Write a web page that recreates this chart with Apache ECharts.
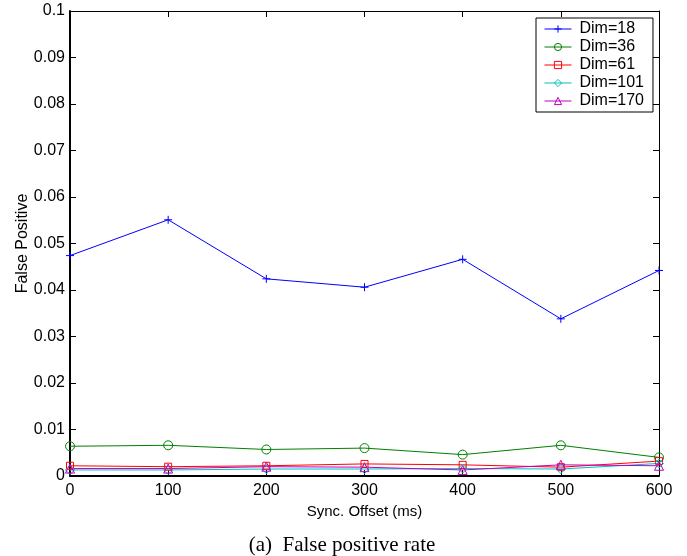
<!DOCTYPE html>
<html>
<head>
<meta charset="utf-8">
<script src="https://cdn.jsdelivr.net/npm/echarts@6/dist/echarts.min.js"></script>
<style>
  html, body { margin: 0; padding: 0; background: #fff; }
  #chart { width: 687px; height: 556px; }
</style>
</head>
<body>
<div id="chart"></div>
<script>
// Sync offsets in ms
const offsets = [0, 100, 200, 300, 400, 500, 600];

// False positive rate per dimension
const dim18  = [0.0474, 0.0551, 0.0424, 0.0406, 0.0466, 0.0338, 0.0442];
const dim36  = [0.0064, 0.0066, 0.0057, 0.0060, 0.0046, 0.0066, 0.0040];
const dim61  = [0.0022, 0.0020, 0.0022, 0.0026, 0.0024, 0.0019, 0.0032];
const dim101 = [0.0013, 0.0013, 0.0015, 0.0015, 0.0016, 0.0015, 0.0027];
const dim170 = [0.0016, 0.0016, 0.0020, 0.0019, 0.0013, 0.0024, 0.0022];

const seriesNames = ['Dim=18', 'Dim=36', 'Dim=61', 'Dim=101', 'Dim=170'];
const yTicks = ['0', '0.01', '0.02', '0.03', '0.04', '0.05', '0.06', '0.07', '0.08', '0.09', '0.1'];

const FONT = 'Liberation Sans, Arial, Helvetica, sans-serif';
const PLUS = 'path://M0,5L10,5M5,0L5,10';

function pairs(ys) { return offsets.map((x, i) => [x, ys[i]]); }

// Hollow markers with a thin outline, line in the same colour
function makeSeries(name, ys, color, symbol, size) {
  return {
    name: name,
    type: 'line',
    data: pairs(ys),
    xAxisIndex: 0,
    yAxisIndex: 0,
    symbol: symbol,
    symbolSize: size,
    showAllSymbol: true,
    lineStyle: { color: color, width: 1 },
    itemStyle: { color: 'rgba(255,255,255,0)', borderColor: color, borderWidth: 1 },
    emphasis: { disabled: true },
    animation: false
  };
}

const chart = echarts.init(document.getElementById('chart'), null, { renderer: 'canvas' });

const tickStyle = { show: true, inside: true, length: 6, lineStyle: { color: '#000', width: 1 } };

chart.setOption({
  backgroundColor: '#fff',
  animation: false,
  grid: { left: 70, right: 28, top: 11, bottom: 80, containLabel: false },
  title: {
    text: '(a)  False positive rate',
    left: 337,
    textAlign: 'center',
    top: 530,
    textStyle: { fontFamily: 'Liberation Serif, Times New Roman, serif', fontSize: 21, fontWeight: 'normal', color: '#000' }
  },
  legend: {
    data: seriesNames,
    orient: 'vertical',
    left: 536,
    top: 18,
    padding: [2, 9, 2, 8],
    itemWidth: 27,
    itemHeight: 9,
    itemGap: 0,
    backgroundColor: '#fff',
    borderColor: '#000',
    borderWidth: 1,
    borderRadius: 0,
    selectedMode: false,
    lineStyle: { width: 1 },
    itemStyle: { borderWidth: 1 },
    textStyle: { fontFamily: FONT, fontSize: 16, color: '#000', lineHeight: 18, padding: [0, 0, 0, 3] }
  },
  xAxis: [
    {
      type: 'value', min: 0, max: 600, interval: 100, position: 'bottom',
      name: 'Sync. Offset (ms)', nameLocation: 'middle', nameGap: 26,
      nameTextStyle: { fontFamily: FONT, fontSize: 15, color: '#000' },
      axisLine: { show: true, onZero: false, lineStyle: { color: '#000', width: 2 } },
      axisTick: tickStyle,
      axisLabel: { fontFamily: FONT, fontSize: 16, color: '#000', margin: 7 },
      splitLine: { show: false }
    },
    {
      type: 'value', min: 0, max: 600, interval: 100, position: 'top',
      axisLine: { show: true, onZero: false, lineStyle: { color: '#000', width: 1 } },
      axisTick: tickStyle,
      axisLabel: { show: false },
      splitLine: { show: false }
    }
  ],
  yAxis: [
    {
      type: 'value', min: 0, max: 0.1, interval: 0.01, position: 'left',
      name: 'False Positive', nameLocation: 'middle', nameGap: 39, nameRotate: 90,
      nameMoveOverlap: false,
      nameTextStyle: { fontFamily: FONT, fontSize: 16, color: '#000' },
      axisLine: { show: true, onZero: false, lineStyle: { color: '#000', width: 2 } },
      axisTick: tickStyle,
      axisLabel: {
        fontFamily: FONT, fontSize: 16, color: '#000', margin: 5,
        formatter: (v) => yTicks[Math.round(v * 100)]
      },
      splitLine: { show: false }
    },
    {
      type: 'value', min: 0, max: 0.1, interval: 0.01, position: 'right',
      axisLine: { show: true, onZero: false, lineStyle: { color: '#000', width: 1 } },
      axisTick: tickStyle,
      axisLabel: { show: false },
      splitLine: { show: false }
    }
  ],
  series: [
    makeSeries(seriesNames[0], dim18,  '#0000ff', PLUS, 8),
    makeSeries(seriesNames[1], dim36,  '#008000', 'circle', 9),
    makeSeries(seriesNames[2], dim61,  '#ff0000', 'rect', 7),
    makeSeries(seriesNames[3], dim101, '#00bfbf', 'diamond', 9),
    makeSeries(seriesNames[4], dim170, '#bf00bf', 'triangle', 9)
  ]
});
</script>
</body>
</html>
